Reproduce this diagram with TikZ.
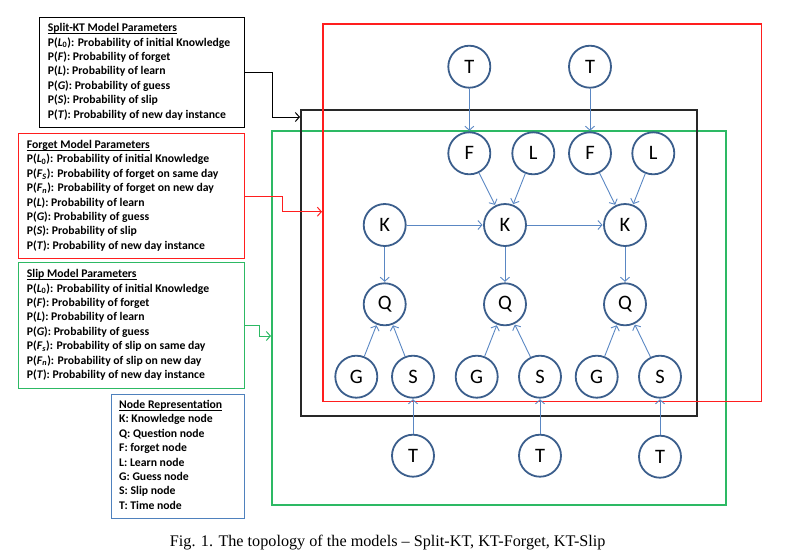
\documentclass[tikz,border=0pt]{standalone}
\usepackage{fontspec}
\setmainfont{Carlito}
\newfontfamily\capfont{Liberation Serif}
\usetikzlibrary{arrows.meta}
\definecolor{nodeborder}{RGB}{59,94,140}
\definecolor{arrowblue}{RGB}{90,135,195}
\definecolor{boxred}{RGB}{255,30,30}
\definecolor{boxgreen}{RGB}{45,185,100}
\definecolor{boxblue}{RGB}{79,129,189}
\definecolor{darkline}{RGB}{40,40,40}
\newcommand\ulhead[1]{\underline{\smash{#1}}}
\begin{document}
\begin{tikzpicture}[x=1pt,y=-1pt,
  var/.style={circle,draw=nodeborder,line width=1.8pt,fill=white,minimum size=42pt,inner sep=0pt,font=\fontsize{20.5}{20.5}\selectfont},
  edge/.style={draw=arrowblue,line width=0.9pt,-{Straight Barb[length=4pt,width=9pt]},shorten >=0.6pt},
  frame/.style={draw,anchor=north west,inner sep=0pt},
  ptext/.style={anchor=base west,inner sep=0pt,font=\bfseries\fontsize{11.7}{13}\selectfont},
  link/.style={line width=1pt,-{Straight Barb[length=4pt,width=9pt]}}
  ]
\useasboundingbox (0,0) rectangle (788,558);

% large frames
\node[frame,draw=boxgreen,line width=1.6pt,minimum width=454pt,minimum height=374pt] (greenrect) at (271,130) {};
\node[frame,draw=darkline,line width=1.8pt,minimum width=396pt,minimum height=306.6pt] (blackrect) at (300,108.7) {};
\node[frame,draw=boxred,line width=1.5pt,minimum width=438.7pt,minimum height=377.7pt] (redrect) at (322,23) {};

% parameter boxes
\node[frame,draw=black,line width=1pt,minimum width=205pt,minimum height=110.3pt] (skbox) at (39.3,16.7) {};
\node[frame,draw=boxred,line width=1pt,minimum width=226.6pt,minimum height=124.4pt] (fgbox) at (17.7,133.3) {};
\node[frame,draw=boxgreen,line width=1pt,minimum width=226.6pt,minimum height=125.4pt] (slbox) at (17.7,262.3) {};
\node[frame,draw=boxblue,line width=1pt,minimum width=133.6pt,minimum height=123.7pt] (nrbox) at (110.7,394) {};

\foreach \t [count=\i from 0] in {
  {\ulhead{Split-KT Model Parameters}},
  {P(\textit{L}\textsubscript{0}): Probability of initial Knowledge},
  {P(\textit{F}): Probability of forget},
  {P(\textit{L}): Probability of learn},
  {P(\textit{G}): Probability of guess},
  {P(\textit{S}): Probability of slip},
  {P(\textit{T}): Probability of new day instance}}
  \node[ptext] (sk-\i) at (47.7,31.7+14.4*\i) {\t};

\foreach \t [count=\i from 0] in {
  {\ulhead{Forget Model Parameters}},
  {P(\textit{L}\textsubscript{0}): Probability of initial Knowledge},
  {P(\textit{F}\textsubscript{\textit{S}}): Probability of forget on same day},
  {P(\textit{F}\textsubscript{\textit{n}}): Probability of forget on new day},
  {P(\textit{L}): Probability of learn},
  {P(\textit{G}): Probability of guess},
  {P(\textit{S}): Probability of slip},
  {P(\textit{T}): Probability of new day instance}}
  \node[ptext] (fg-\i) at (26.7,148.5+14.4*\i) {\t};

\foreach \t [count=\i from 0] in {
  {\ulhead{Slip Model Parameters}},
  {P(\textit{L}\textsubscript{0}): Probability of initial Knowledge},
  {P(\textit{F}): Probability of forget},
  {P(\textit{L}): Probability of learn},
  {P(\textit{G}): Probability of guess},
  {P(\textit{F}\textsubscript{\textit{s}}): Probability of slip on same day},
  {P(\textit{F}\textsubscript{\textit{n}}): Probability of slip on new day},
  {P(\textit{T}): Probability of new day instance}}
  \node[ptext] (sl-\i) at (26.7,277.7+14.4*\i) {\t};

\foreach \t [count=\i from 0] in {
  {\ulhead{Node Representation}},
  {K: Knowledge node},
  {Q: Question node},
  {F: forget node},
  {L: Learn node},
  {G: Guess node},
  {S: Slip node},
  {T: Time node}}
  \node[ptext] (nr-\i) at (119,408.5+14.4*\i) {\t};

% links from boxes to frames
\coordinate (skbend) at (272,117);
\coordinate (fgbend) at (282.7,211.7);
\coordinate (slbend) at (259.3,336);
\draw[link,draw=black] (skbox.east) -| (skbend) -- (skbend -| blackrect.west);
\draw[link,draw=boxred] (fgbox.east) -| (fgbend) -- (fgbend -| redrect.west);
\draw[link,draw=boxgreen] (slbox.east) -| (slbend) -- (slbend -| greenrect.west);

% network nodes
\node[var] (Ta) at (469.3,66.7) {T};
\node[var] (Tb) at (590,66.7) {T};
\node[var] (F1) at (469.3,153.3) {F};
\node[var] (L1) at (533.3,153.3) {L};
\node[var] (F2) at (590,153.3) {F};
\node[var] (L2) at (653.3,153.3) {L};
\node[var] (K1) at (384.7,225) {K};
\node[var] (K2) at (505,225) {K};
\node[var] (K3) at (625,225) {K};
\node[var] (Q1) at (384.7,304.3) {Q};
\node[var] (Q2) at (505,304.3) {Q};
\node[var] (Q3) at (625,304.3) {Q};
\node[var] (G1) at (356.3,376.7) {G};
\node[var] (S1) at (413,376.7) {S};
\node[var] (G2) at (476.7,376.7) {G};
\node[var] (S2) at (540,376.7) {S};
\node[var] (G3) at (596.7,376.7) {G};
\node[var] (S3) at (660,376.7) {S};
\node[var] (T1) at (413,455.7) {T};
\node[var] (T2) at (540,455.7) {T};
\node[var] (T3) at (660,456.7) {T};

\draw[edge] (Ta) -- (F1);
\draw[edge] (Tb) -- (F2);
\draw[edge] (F1) -- (K2);
\draw[edge] (L1) -- (K2);
\draw[edge] (F2) -- (K3);
\draw[edge] (L2) -- (K3);
\draw[edge] (K1) -- (K2);
\draw[edge] (K2) -- (K3);
\draw[edge] (K1) -- (Q1);
\draw[edge] (K2) -- (Q2);
\draw[edge] (K3) -- (Q3);
\draw[edge] (G1) -- (Q1);
\draw[edge] (S1) -- (Q1);
\draw[edge] (G2) -- (Q2);
\draw[edge] (S2) -- (Q2);
\draw[edge] (G3) -- (Q3);
\draw[edge] (S3) -- (Q3);
\draw[edge] (T1) -- (S1);
\draw[edge] (T2) -- (S2);
\draw[edge] (T3) -- (S3);

\node[anchor=base,inner sep=0pt,font=\capfont\fontsize{16.2}{16.2}\selectfont] (caption) at (387.7,546.7) {Fig. 1. The topology of the models – Split-KT, KT-Forget, KT-Slip};
\end{tikzpicture}
\end{document}
